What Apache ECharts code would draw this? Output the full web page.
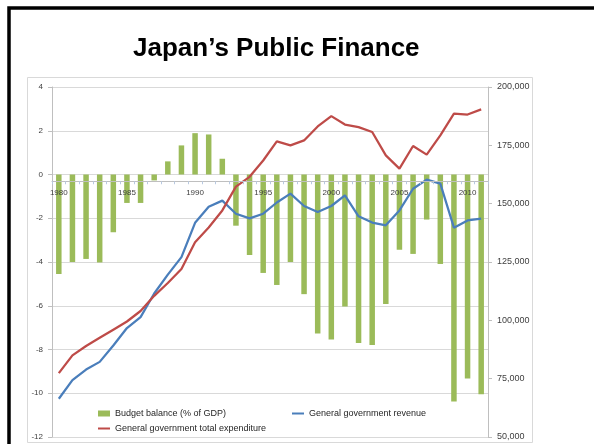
<!DOCTYPE html>
<html>
<head>
<meta charset="utf-8">
<script src="https://cdn.jsdelivr.net/npm/echarts@6/dist/echarts.min.js"></script>
<style>
  html, body { margin: 0; padding: 0; background: #fff; }
  #chart { width: 594px; height: 444px; }
</style>
</head>
<body>
<div id="chart"></div>
<script>
// Japan's budget balance (% of GDP) and general government revenue / expenditure, 1980-2011
const years = ['1980','1981','1982','1983','1984','1985','1986','1987','1988','1989',
  '1990','1991','1992','1993','1994','1995','1996','1997','1998','1999',
  '2000','2001','2002','2003','2004','2005','2006','2007','2008','2009','2010','2011'];

const budgetBalance = [-4.55, -4.0, -3.86, -4.02, -2.64, -1.3, -1.3, -0.27, 0.6, 1.33,
  1.89, 1.83, 0.72, -2.34, -3.68, -4.5, -5.05, -4.0, -5.47, -7.27,
  -7.54, -6.03, -7.7, -7.79, -5.92, -3.44, -3.63, -2.06, -4.09, -10.38, -9.33, -10.05];

const revenue = [66400, 74400, 78900, 82200, 89200, 96700, 101400, 111500, 119600, 127100,
  141800, 148700, 151300, 145700, 143700, 145700, 150500, 154300, 149000, 146400,
  149000, 153600, 144600, 141900, 140700, 147100, 156400, 160300, 158600, 139700, 142800, 143600];

const expenditure = [77400, 85000, 89000, 92500, 96000, 99500, 104000, 110500, 116000, 122000,
  133500, 139800, 147100, 157300, 161500, 168500, 176700, 175000, 177100, 183100,
  187500, 183900, 182800, 180700, 170700, 165000, 174700, 171000, 179300, 188600, 188200, 190400];

const leftTicks = { min: -12, max: 4, step: 2 };
const rightTicks = { min: 50000, max: 200000, step: 25000 };

const NAME_BAL = 'Budget balance (% of GDP)';
const NAME_REV = 'General government revenue';
const NAME_EXP = 'General government total expenditure';

const FONT = '"Liberation Sans", Arial, sans-serif';
const GREEN = '#9bbb59', BLUE = '#4a7ebb', RED = '#be4b48';
const AXIS_GREY = '#bfbfbf', GRID_GREY = '#d9d9d9', TEXT = '#404040';

const chart = echarts.init(document.getElementById('chart'), null, { renderer: 'canvas' });

const legendBase = {
  orient: 'horizontal',
  padding: 0,
  textStyle: { fontFamily: FONT, fontSize: 9, color: '#262626' },
  itemGap: 0,
  selectedMode: false
};

chart.setOption({
  backgroundColor: '#ffffff',
  animation: false,
  title: {
    text: 'Japan\u2019s Public Finance',
    left: 133,
    top: 36,
    padding: 0,
    textStyle: { fontFamily: FONT, fontWeight: 'bold', fontSize: 26, color: '#000' }
  },
  graphic: [
    { type: 'rect', silent: true, z: -10,
      shape: { x: 27.5, y: 77.5, width: 505, height: 365 },
      style: { fill: 'none', stroke: GRID_GREY, lineWidth: 1 } },
    { type: 'rect', silent: true, z: 100,
      shape: { x: 9, y: 8, width: 700, height: 600 },
      style: { fill: 'none', stroke: '#000', lineWidth: 3.5 } }
  ],
  grid: { left: 52, right: 106, top: 87, bottom: 7, containLabel: false },
  legend: [
    Object.assign({}, legendBase, {
      left: 98, top: 409, itemWidth: 12, itemHeight: 6,
      data: [{ name: NAME_BAL, icon: 'rect' }]
    }),
    Object.assign({}, legendBase, {
      left: 292, top: 409, itemWidth: 12, itemHeight: 2,
      data: [{ name: NAME_REV, icon: 'rect' }]
    }),
    Object.assign({}, legendBase, {
      left: 98, top: 424, itemWidth: 12, itemHeight: 2,
      data: [{ name: NAME_EXP, icon: 'rect' }]
    })
  ],
  xAxis: {
    type: 'category',
    data: years,
    boundaryGap: true,
    z: 5,
    axisLine: { onZero: false, lineStyle: { color: AXIS_GREY, width: 1 } },
    axisTick: { show: true, interval: 0, length: 3, lineStyle: { color: '#b9c9e0' } },
    axisLabel: { interval: 4, margin: 8, fontFamily: FONT, fontSize: 8, color: TEXT },
    splitLine: { show: false }
  },
  yAxis: [
    {
      type: 'value',
      min: leftTicks.min, max: leftTicks.max, interval: leftTicks.step,
      position: 'left',
      axisLine: { show: true, lineStyle: { color: AXIS_GREY } },
      axisTick: { show: true, length: 4, lineStyle: { color: AXIS_GREY } },
      axisLabel: { margin: 9, fontFamily: FONT, fontSize: 8, color: TEXT },
      splitLine: { show: true, lineStyle: { color: GRID_GREY, width: 1 } }
    },
    {
      type: 'value',
      min: rightTicks.min, max: rightTicks.max, interval: rightTicks.step,
      position: 'right',
      axisLine: { show: true, lineStyle: { color: AXIS_GREY } },
      axisTick: { show: true, length: 4, lineStyle: { color: AXIS_GREY } },
      axisLabel: {
        margin: 9, fontFamily: FONT, fontSize: 9, color: TEXT,
        formatter: v => v.toLocaleString('en-US')
      },
      splitLine: { show: false }
    }
  ],
  series: [
    {
      name: NAME_BAL, type: 'bar', yAxisIndex: 0,
      data: budgetBalance, barWidth: 5.5,
      itemStyle: { color: GREEN }
    },
    {
      name: NAME_REV, type: 'line', yAxisIndex: 1,
      data: revenue, showSymbol: false, symbol: 'none',
      lineStyle: { color: BLUE, width: 2.25 }, itemStyle: { color: BLUE }
    },
    {
      name: NAME_EXP, type: 'line', yAxisIndex: 1,
      data: expenditure, showSymbol: false, symbol: 'none',
      lineStyle: { color: RED, width: 2.25 }, itemStyle: { color: RED }
    }
  ]
});

// Lift the category axis (line, ticks and labels) up to the zero line of the left scale
const zeroY = chart.convertToPixel({ yAxisIndex: 0 }, 0);
const baseY = chart.convertToPixel({ yAxisIndex: 0 }, leftTicks.min);
chart.setOption({ xAxis: { offset: -(baseY - zeroY) } });
</script>
</body>
</html>
